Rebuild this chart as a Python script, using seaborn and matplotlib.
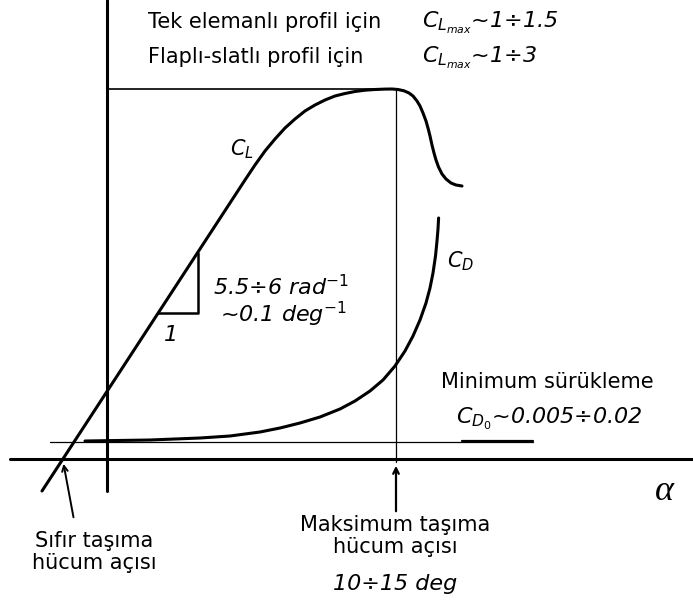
import numpy as np
import matplotlib
matplotlib.use("Agg")
import matplotlib.pyplot as plt
import seaborn as sns

# schematic lift / drag curves (pixel-like units, y grows downward)
cl_x = [42, 245, 255, 265, 275, 285, 295, 305, 315, 325, 335, 345, 355, 365, 375, 385, 392,
        398, 404, 409, 413, 417, 420, 423, 426, 428, 430, 432, 434, 436, 438.5, 442, 446, 451, 456, 462]
cl_y = [491, 180, 165, 151, 139, 128, 119, 111, 105, 100, 96, 93.5, 91.5, 90.2, 89.5, 89.1, 89,
        89.5, 90.8, 93, 96, 101, 106, 113, 121, 128, 136, 145, 153, 160, 167, 174, 179, 183, 185, 186]

cd_x = [85, 150, 200, 230, 260, 280, 300, 320, 340, 355, 370, 383, 395, 405, 413,
        420, 426, 430, 433, 435.5, 437, 438, 438.6]
cd_y = [441, 440, 438, 436, 432, 428, 423, 417, 409, 401, 391, 380, 366, 351, 336,
        320, 303, 288, 273, 256, 241, 229, 218]

# guide lines
alpha_axis_x = [10, 693]
alpha_axis_y = [459, 459]
cl_axis_x = [107, 107]
cl_axis_y = [0, 491]
clmax_x = [107, 396]
clmax_y = [89, 89]
stall_x = [396, 396]
stall_y = [89, 462]
cd0_x = [50, 533]
cd0_y = [442, 442]
cd0_under_x = [462, 533]
cd0_under_y = [441, 441]
tri_x = [158, 198, 198]
tri_y = [313, 313, 253]

sns.set_style("white")
plt.rcParams["font.family"] = ["DejaVu Sans"]
plt.rcParams["mathtext.fontset"] = "dejavusans"
plt.rcParams["text.color"] = "black"

fig = plt.figure(figsize=(6.93, 6.06), dpi=100)
ax = fig.add_axes([0, 0, 1, 1])

sns.lineplot(x=cl_x, y=cl_y, sort=False, estimator=None, color="black", lw=2.2, ax=ax)
sns.lineplot(x=cd_x, y=cd_y, sort=False, estimator=None, color="black", lw=2.2, ax=ax)

ax.plot(alpha_axis_x, alpha_axis_y, color="black", lw=2.2)
ax.plot(cl_axis_x, cl_axis_y, color="black", lw=2.2)
ax.plot(clmax_x, clmax_y, color="black", lw=1.2)
ax.plot(stall_x, stall_y, color="black", lw=0.9)
ax.plot(cd0_x, cd0_y, color="black", lw=0.9)
ax.plot(cd0_under_x, cd0_under_y, color="black", lw=1.6)
ax.plot(tri_x, tri_y, color="black", lw=1.8)

ax.set_xlim(0, 693)
ax.set_ylim(606, 0)
ax.axis("off")

reg = 15
ita = 16

ax.text(148, 28, "Tek elemanlı profil için", fontsize=reg, va="baseline")
ax.text(148, 63, "Flaplı-slatlı profil için", fontsize=reg, va="baseline")
ax.text(422, 28, r"$C_{L_{max}}$~1÷1.5", fontsize=ita, style="italic", va="baseline")
ax.text(422, 63, r"$C_{L_{max}}$~1÷3", fontsize=ita, style="italic", va="baseline")

ax.text(230, 155, r"$C_L$", fontsize=15, va="baseline")
ax.text(447, 267, r"$C_D$", fontsize=15, va="baseline")

ax.text(213, 295, r"5.5÷6 rad$^{\mathit{-1}}$", fontsize=ita, style="italic", va="baseline")
ax.text(220, 322, r"~0.1 deg$^{\mathit{-1}}$", fontsize=ita, style="italic", va="baseline")
ax.text(171, 335, "1", fontsize=ita, style="italic", ha="center", va="center")

ax.text(547, 388, "Minimum sürükleme", fontsize=reg, ha="center", va="baseline")
ax.text(549, 424, r"$C_{D_{\mathit{0}}}$~0.005÷0.02", fontsize=ita, style="italic",
        ha="center", va="baseline")

ax.text(664, 492, "α", fontsize=26, family="Liberation Serif", style="italic",
        ha="center", va="center")

ax.text(94, 552, "Sıfır taşıma\nhücum açısı", fontsize=reg, ha="center", va="center",
        linespacing=1.1)
ax.text(395, 536, "Maksimum taşıma\nhücum açısı", fontsize=reg, ha="center", va="center",
        linespacing=1.1)
ax.text(395, 590, "10÷15 deg", fontsize=ita, style="italic", ha="center", va="baseline")

ax.annotate("", xy=(63, 461), xytext=(74, 520),
            arrowprops=dict(arrowstyle="->", color="black", lw=1.4))
ax.annotate("", xy=(396, 463), xytext=(396, 514),
            arrowprops=dict(arrowstyle="->", color="black", lw=1.6))

fig.savefig("out.png", dpi=100)
